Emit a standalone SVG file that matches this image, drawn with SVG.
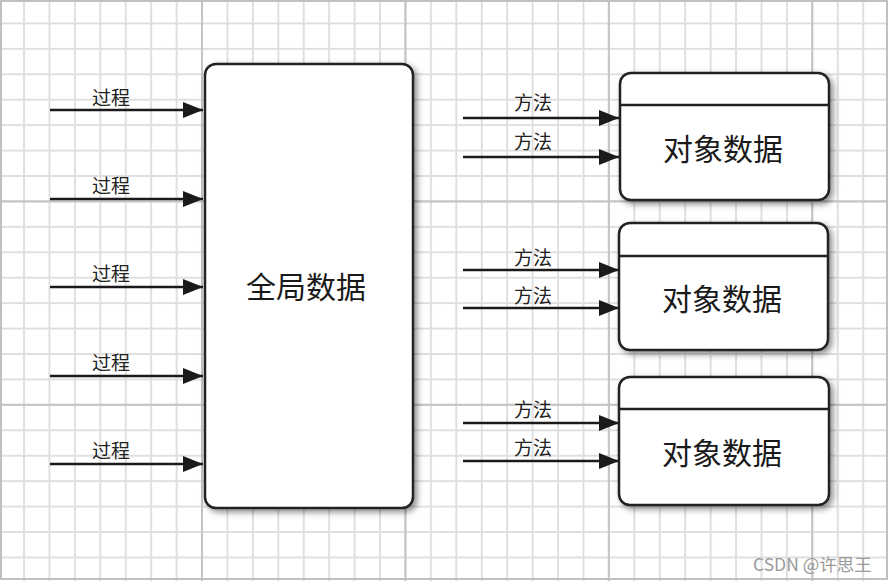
<svg xmlns="http://www.w3.org/2000/svg" width="888" height="581" viewBox="0 0 888 581">
<defs>
<pattern id="minor" x="-2.4" y="-3" width="25.43" height="25.43" patternUnits="userSpaceOnUse">
<path d="M1 0V25.43M0 1H25.43" fill="none" stroke="#dfdfdf" stroke-width="2"/>
</pattern>
<pattern id="major" x="-2.4" y="-3" width="203.4" height="203.4" patternUnits="userSpaceOnUse">
<path d="M1 0V203.4M0 1H203.4" fill="none" stroke="#c4c4c4" stroke-width="2"/>
</pattern>
<marker id="arr" viewBox="0 0 20 16" refX="20" refY="8" markerWidth="20" markerHeight="16" markerUnits="userSpaceOnUse" orient="auto">
<path d="M0 0L20 8L0 16Z" fill="#1a1a1a"/>
</marker>
<filter id="sh" x="-10%" y="-10%" width="130%" height="130%">
<feDropShadow dx="3" dy="3" stdDeviation="3" flood-color="#000" flood-opacity="0.45"/>
</filter>
</defs>
<style>
.box{fill:#fff;stroke:#222;stroke-width:2.5;filter:url(#sh)}
.div{stroke:#222;stroke-width:2.5}
.ln{stroke:#1a1a1a;stroke-width:2.5;fill:none;marker-end:url(#arr)}
.lbl{font-family:"Noto Sans CJK SC","Noto Sans",sans-serif;font-size:19px;fill:#222;text-anchor:middle}
.big{font-family:"Noto Sans CJK SC","Noto Sans",sans-serif;font-size:30px;fill:#1a1a1a;text-anchor:middle}
.wm{font-family:"Noto Sans CJK SC","Noto Sans",sans-serif;font-size:17.5px;fill:#9a9a9a}
</style>
<rect width="888" height="581" fill="#fff"/>
<rect width="888" height="581" fill="url(#minor)"/>
<rect width="888" height="581" fill="url(#major)"/>
<rect x="1" y="1" width="886" height="578" fill="none" stroke="#c0c0c0" stroke-width="2"/>

<g id="connectors">
<line class="ln" x1="50" y1="110" x2="203" y2="110"/>
<line class="ln" x1="50" y1="199" x2="203" y2="199"/>
<line class="ln" x1="50" y1="287" x2="203" y2="287"/>
<line class="ln" x1="50" y1="376" x2="203" y2="376"/>
<line class="ln" x1="50" y1="464" x2="203" y2="464"/>
<line class="ln" x1="463" y1="118" x2="619" y2="118"/>
<line class="ln" x1="463" y1="157" x2="619" y2="157"/>
<line class="ln" x1="463" y1="270" x2="619" y2="270"/>
<line class="ln" x1="463" y1="308" x2="619" y2="308"/>
<line class="ln" x1="463" y1="423" x2="619" y2="423"/>
<line class="ln" x1="463" y1="461" x2="619" y2="461"/>
<text class="lbl" x="111" y="105">过程</text>
<text class="lbl" x="111" y="193">过程</text>
<text class="lbl" x="111" y="281">过程</text>
<text class="lbl" x="111" y="370">过程</text>
<text class="lbl" x="111" y="458">过程</text>
<text class="lbl" x="533" y="110">方法</text>
<text class="lbl" x="533" y="149">方法</text>
<text class="lbl" x="533" y="265">方法</text>
<text class="lbl" x="533" y="303">方法</text>
<text class="lbl" x="533" y="417">方法</text>
<text class="lbl" x="533" y="455">方法</text>
</g>

<g id="global">
<rect class="box" x="205" y="64" width="208" height="444" rx="11"/>
<text class="big" x="306" y="298">全局数据</text>
</g>

<g id="obj1">
<rect class="box" x="620" y="73" width="209" height="127" rx="11"/>
<line class="div" x1="620" y1="105" x2="829" y2="105"/>
<text class="big" x="723" y="160">对象数据</text>
</g>
<g id="obj2">
<rect class="box" x="619" y="223" width="209" height="127" rx="11"/>
<line class="div" x1="619" y1="256" x2="828" y2="256"/>
<text class="big" x="722" y="310">对象数据</text>
</g>
<g id="obj3">
<rect class="box" x="619" y="377" width="210" height="128" rx="11"/>
<line class="div" x1="619" y1="409" x2="829" y2="409"/>
<text class="big" x="722" y="464">对象数据</text>
</g>

<text class="wm" x="753" y="571">CSDN @许思王</text>
</svg>
